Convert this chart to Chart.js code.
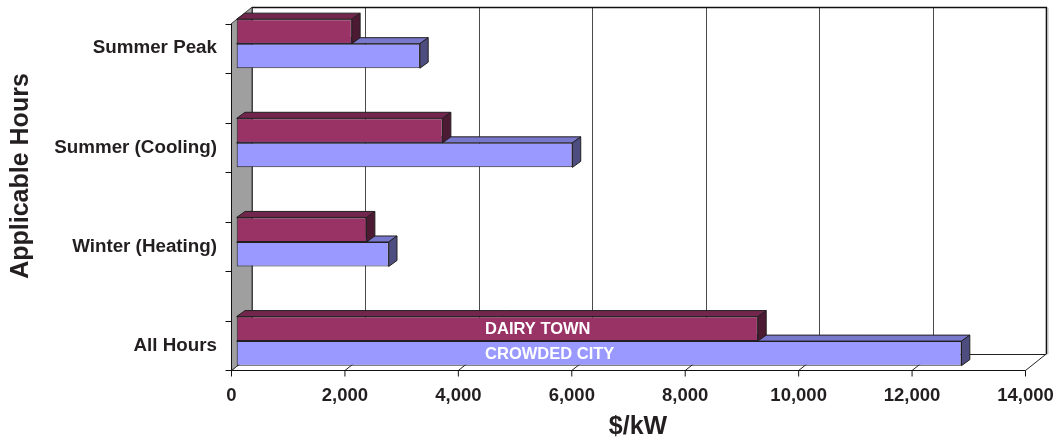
<!DOCTYPE html>
<html><head><meta charset="utf-8">
<script src="https://cdn.jsdelivr.net/npm/chart.js@4.4.1/dist/chart.umd.min.js"></script>
<style>html,body{margin:0;padding:0;background:#fff}#wrap{width:1058px;height:441px;position:relative}</style>
</head><body><div id="wrap"><canvas id="c"></canvas></div>
<script>
// ---- data ----
const categories = ['Summer Peak', '', 'Summer (Cooling)', '', 'Winter (Heating)', '', 'All Hours'];
const dairyTown = [2030, null, 3630, null, 2290, null, 9190];
const crowdedCity = [3230, null, 5920, null, 2680, null, 12780];
const seriesNames = ['DAIRY TOWN', 'CROWDED CITY'];
const xTickValues = [0, 2000, 4000, 6000, 8000, 10000, 12000, 14000];
const xAxisTitle = '$/kW';
const yAxisTitle = 'Applicable Hours';
const labelledCategory = 'All Hours';
const seriesLabelValue = 4380;

// ---- style ----
const FONT = '"Liberation Sans", Arial, Helvetica, sans-serif';
const TEXT = '#231f20';
const DEPTH = {x: 20.5, y: -16.3};
const BAR_SHIFT = {x: 5.2, y: -4.6};
const BAR_DEPTH = {x: 8.3, y: -6};
const faces = [
  {front: '#993366', top: '#73264d', side: '#4d1a33'},
  {front: '#9999ff', top: '#7777cc', side: '#4d4d80'}
];

function poly(ctx, pts, fill, stroke) {
  ctx.beginPath();
  ctx.moveTo(pts[0][0], pts[0][1]);
  for (let i = 1; i < pts.length; i++) ctx.lineTo(pts[i][0], pts[i][1]);
  ctx.closePath();
  if (fill) { ctx.fillStyle = fill; ctx.fill(); }
  if (stroke) { ctx.strokeStyle = stroke; ctx.lineWidth = 1; ctx.stroke(); }
}
function line(ctx, x1, y1, x2, y2, color, w) {
  ctx.beginPath(); ctx.moveTo(x1, y1); ctx.lineTo(x2, y2);
  ctx.strokeStyle = color; ctx.lineWidth = w || 1; ctx.stroke();
}

const framePlugin = {
  id: 'frame3d',
  beforeDatasetsDraw(chart) {
    const {ctx, chartArea: a, scales: {x, y}} = chart;
    const L = a.left, R = a.right, T = a.top, B = a.bottom, dx = DEPTH.x, dy = DEPTH.y;
    ctx.save();
    // back wall gridlines
    xTickValues.forEach(v => {
      const px = Math.round(x.getPixelForValue(v) + dx) + 0.5;
      line(ctx, px, T + dy, px, B + dy, '#4a4a4a', 1);
    });
    // back wall top & right edges
    line(ctx, L + dx, Math.round(T + dy) + 0.5, R + dx + 1, Math.round(T + dy) + 0.5, '#111', 1.6);
    line(ctx, Math.round(R + dx) + 0.5, T + dy, Math.round(R + dx) + 0.5, B + dy, '#111', 1.6);
    line(ctx, Math.round(R + dx) + 2, T + dy + 1, Math.round(R + dx) + 2, B + dy, '#bbb', 1);
    // floor
    poly(ctx, [[L, B], [R, B], [R + dx, B + dy], [L + dx, B + dy]], '#ffffff', null);
    line(ctx, L + dx, Math.round(B + dy) + 0.5, R + dx, Math.round(B + dy) + 0.5, '#222', 1);
    xTickValues.forEach(v => {
      const px = x.getPixelForValue(v);
      line(ctx, px, B, px + dx, B + dy, '#222', 1);
    });
    // left wall
    poly(ctx, [[L, T], [L + dx, T + dy], [L + dx, B + dy], [L, B]], '#9f9f9f', '#3a3a3a');
    // front axis lines
    line(ctx, L, T, L, B + 0.5, '#111', 1);
    line(ctx, L - 0.5, B, R, B, '#111', 1.2);
    // x tick marks
    xTickValues.forEach(v => {
      const px = x.getPixelForValue(v);
      line(ctx, px, B, px, B + 6, '#111', 1);
    });
    // y tick marks at category boundaries
    const n = categories.length;
    const step = y.getPixelForValue(1) - y.getPixelForValue(0);
    for (let i = 0; i <= n; i++) {
      const py = Math.round(y.getPixelForValue(0) - step / 2 + i * step) + 0.5;
      line(ctx, L - 6, py, L, py, '#111', 1);
    }
    ctx.restore();
  },
  beforeDatasetDraw(chart, args) {
    const ctx = chart.ctx;
    ctx.save();
    ctx.translate(BAR_SHIFT.x, BAR_SHIFT.y);
    const f = faces[args.index];
    const vals = chart.data.datasets[args.index].data;
    args.meta.data.forEach((el, i) => {
      if (vals[i] == null) return;
      const {x, y, base, height} = el.getProps(['x', 'y', 'base', 'height'], true);
      const top = y - height / 2, bot = y + height / 2, dx = BAR_DEPTH.x, dy = BAR_DEPTH.y;
      poly(ctx, [[base, top], [x, top], [x + dx, top + dy], [base + dx, top + dy]], f.top, '#231f20');
      poly(ctx, [[x, top], [x + dx, top + dy], [x + dx, bot + dy], [x, bot]], f.side, '#231f20');
    });
  },
  afterDatasetDraw(chart) {
    chart.ctx.restore();
  },
  afterDatasetsDraw(chart) {
    const {ctx, scales: {x}} = chart;
    const idx = categories.indexOf(labelledCategory);
    ctx.save();
    ctx.font = 'bold 16.5px ' + FONT;
    ctx.fillStyle = '#ffffff';
    ctx.textAlign = 'left';
    ctx.textBaseline = 'middle';
    chart.data.datasets.forEach((ds, di) => {
      const el = chart.getDatasetMeta(di).data[idx];
      const {y} = el.getProps(['y'], true);
      ctx.fillText(seriesNames[di], x.getPixelForValue(seriesLabelValue) + BAR_SHIFT.x, y + BAR_SHIFT.y + 1);
    });
    ctx.restore();
  },
  afterDraw(chart) {
    const {ctx} = chart;
    ctx.save();
    ctx.font = 'bold 25px ' + FONT;
    ctx.fillStyle = TEXT;
    ctx.textAlign = 'center';
    ctx.textBaseline = 'middle';
    ctx.fillText(xAxisTitle, 638, 427);
    ctx.translate(21, 176);
    ctx.rotate(-Math.PI / 2);
    ctx.fillText(yAxisTitle, 0, 0);
    ctx.restore();
  }
};

new Chart(document.getElementById('c'), {
  type: 'bar',
  data: {
    labels: categories,
    datasets: [
      {label: seriesNames[0], data: dairyTown, backgroundColor: faces[0].front, borderColor: '#231f20', borderWidth: 1, borderSkipped: false, clip: false},
      {label: seriesNames[1], data: crowdedCity, backgroundColor: faces[1].front, borderColor: '#231f20', borderWidth: 1, borderSkipped: false, clip: false}
    ]
  },
  options: {
    indexAxis: 'y',
    responsive: true,
    maintainAspectRatio: false,
    animation: false,
    devicePixelRatio: 1,
    layout: {padding: {top: 23.5, right: 32.5, left: 0, bottom: 0}},
    datasets: {bar: {barPercentage: 1, categoryPercentage: 0.99}},
    plugins: {legend: {display: false}, tooltip: {enabled: false}},
    scales: {
      x: {
        type: 'linear', min: 0, max: 14000,
        afterFit(s) { s.height = 70.5; s.paddingLeft = 0; s.paddingRight = 0; },
        afterBuildTicks(s) { s.ticks = xTickValues.map(v => ({value: v})); },
        grid: {display: false},
        border: {display: false},
        ticks: {color: TEXT, font: {family: FONT, size: 18.5, weight: 'bold'}, padding: 6, maxRotation: 0,
          callback: v => v.toLocaleString('en-US')}
      },
      y: {
        type: 'category',
        afterFit(s) { s.width = 231.5; s.paddingTop = 0; s.paddingBottom = 0; },
        grid: {display: false},
        border: {display: false},
        ticks: {color: TEXT, font: {family: FONT, size: 18.8, weight: 'bold'}, padding: 6.5, autoSkip: false}
      }
    }
  },
  plugins: [framePlugin]
});
</script></body></html>
